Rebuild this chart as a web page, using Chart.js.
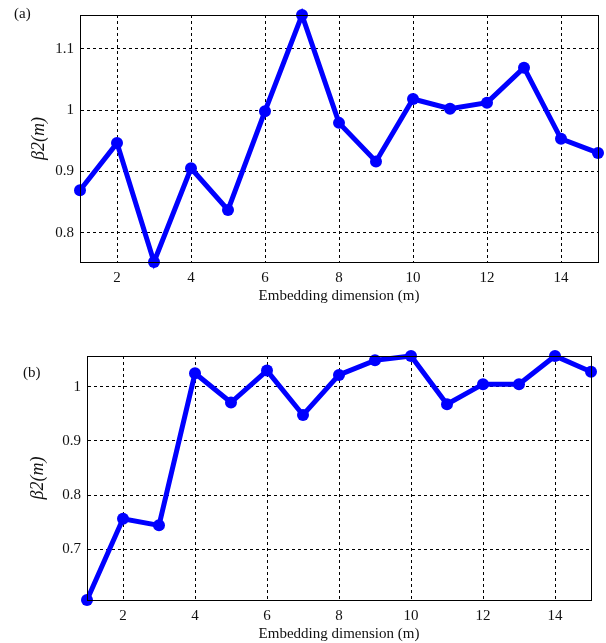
<!DOCTYPE html>
<html>
<head>
<meta charset="utf-8">
<script src="https://cdn.jsdelivr.net/npm/chart.js@4.4.1/dist/chart.umd.min.js"></script>
<style>
  body { margin: 0; background: #fff; width: 606px; height: 643px; position: relative; overflow: hidden; }
  .panel { position: absolute; left: 0; width: 606px; }
  .tag { position: absolute; font-family: "Liberation Serif", serif; font-size: 15px; color: #111; }
</style>
</head>
<body>
<div class="panel" id="boxA" style="top:0;height:305px;"><canvas id="chartA" width="606" height="305"></canvas></div>
<div class="panel" id="boxB" style="top:340px;height:303px;"><canvas id="chartB" width="606" height="303"></canvas></div>
<div class="tag" style="left:14px;top:5px;">(a)</div>
<div class="tag" style="left:23px;top:364px;">(b)</div>
<script>
// embedding dimension m
const dims = [1, 2, 3, 4, 5, 6, 7, 8, 9, 10, 11, 12, 13, 14, 15];
// panel (a)
const betaA = [0.869, 0.946, 0.752, 0.905, 0.837, 0.998, 1.155, 0.979, 0.916, 1.018, 1.002, 1.012, 1.069, 0.953, 0.930];
// panel (b)
const betaB = [0.606, 0.756, 0.744, 1.025, 0.971, 1.030, 0.948, 1.022, 1.049, 1.057, 0.968, 1.005, 1.005, 1.057, 1.028];

const xTicks = [2, 4, 6, 8, 10, 12, 14];
const yTicksA = [0.8, 0.9, 1, 1.1];
const yTicksB = [0.7, 0.8, 0.9, 1];
const yRangeA = [0.752, 1.155];
const yRangeB = [0.606, 1.057];

const serif = "'Liberation Serif', 'Times New Roman', serif";

// black box around the axes, like matlab
const frame = {
  id: "frame",
  afterDraw(chart) {
    const a = chart.chartArea, ctx = chart.ctx;
    ctx.save();
    ctx.strokeStyle = "#000";
    ctx.lineWidth = 1;
    ctx.setLineDash([]);
    ctx.strokeRect(Math.round(a.left) + 0.5, Math.round(a.top) + 0.5,
                   Math.round(a.right - a.left), Math.round(a.bottom - a.top));
    ctx.restore();
  }
};

function makeChart(id, values, yTicks, yRange, box) {
  return new Chart(document.getElementById(id).getContext("2d"), {
    type: "line",
    data: {
      datasets: [{
        data: dims.map((m, i) => ({ x: m, y: values[i] })),
        borderColor: "#0000ff",
        backgroundColor: "#0000ff",
        borderWidth: 5,
        pointRadius: 6,
        pointBorderWidth: 0,
        pointBackgroundColor: "#0000ff",
        tension: 0,
        clip: 8
      }]
    },
    options: {
      responsive: false,
      animation: false,
      layout: { padding: { left: 0, right: box.right, top: box.top, bottom: 0 } },
      plugins: { legend: { display: false }, tooltip: { enabled: false } },
      scales: {
        x: {
          type: "linear",
          min: 1,
          max: 15,
          afterBuildTicks: axis => { axis.ticks = xTicks.map(v => ({ value: v })); },
          afterFit: axis => { axis.height = box.xHeight; },
          grid: { color: "#000", lineWidth: 1, drawTicks: false },
          border: { display: true, color: "#000", dash: [3, 3] },
          ticks: { color: "#111", padding: 7, font: { family: serif, size: 15 }, maxRotation: 0 },
          title: {
            display: true,
            text: "Embedding dimension (m)",
            color: "#111",
            padding: 0,
            font: { family: serif, size: 15 }
          }
        },
        y: {
          type: "linear",
          min: yRange[0],
          max: yRange[1],
          afterBuildTicks: axis => { axis.ticks = yTicks.map(v => ({ value: v })); },
          afterFit: axis => { axis.width = box.yWidth; },
          grid: { color: "#000", lineWidth: 1, drawTicks: false },
          border: { display: true, color: "#000", dash: [3, 3] },
          ticks: {
            color: "#111",
            padding: 6,
            font: { family: serif, size: 15 },
            callback: v => String(v)
          },
          title: {
            display: true,
            text: "\u03B22(m)",
            color: "#111",
            padding: { top: box.titleLeft, bottom: 0 },
            font: { family: serif, size: 18, style: "italic" }
          }
        }
      }
    },
    plugins: [frame]
  });
}

makeChart("chartA", betaA, yTicksA, yRangeA, { right: 8, top: 11, xHeight: 43, yWidth: 80, titleLeft: 28 });
makeChart("chartB", betaB, yTicksB, yRangeB, { right: 15, top: 16, xHeight: 43, yWidth: 87, titleLeft: 27 });
</script>
</body>
</html>
